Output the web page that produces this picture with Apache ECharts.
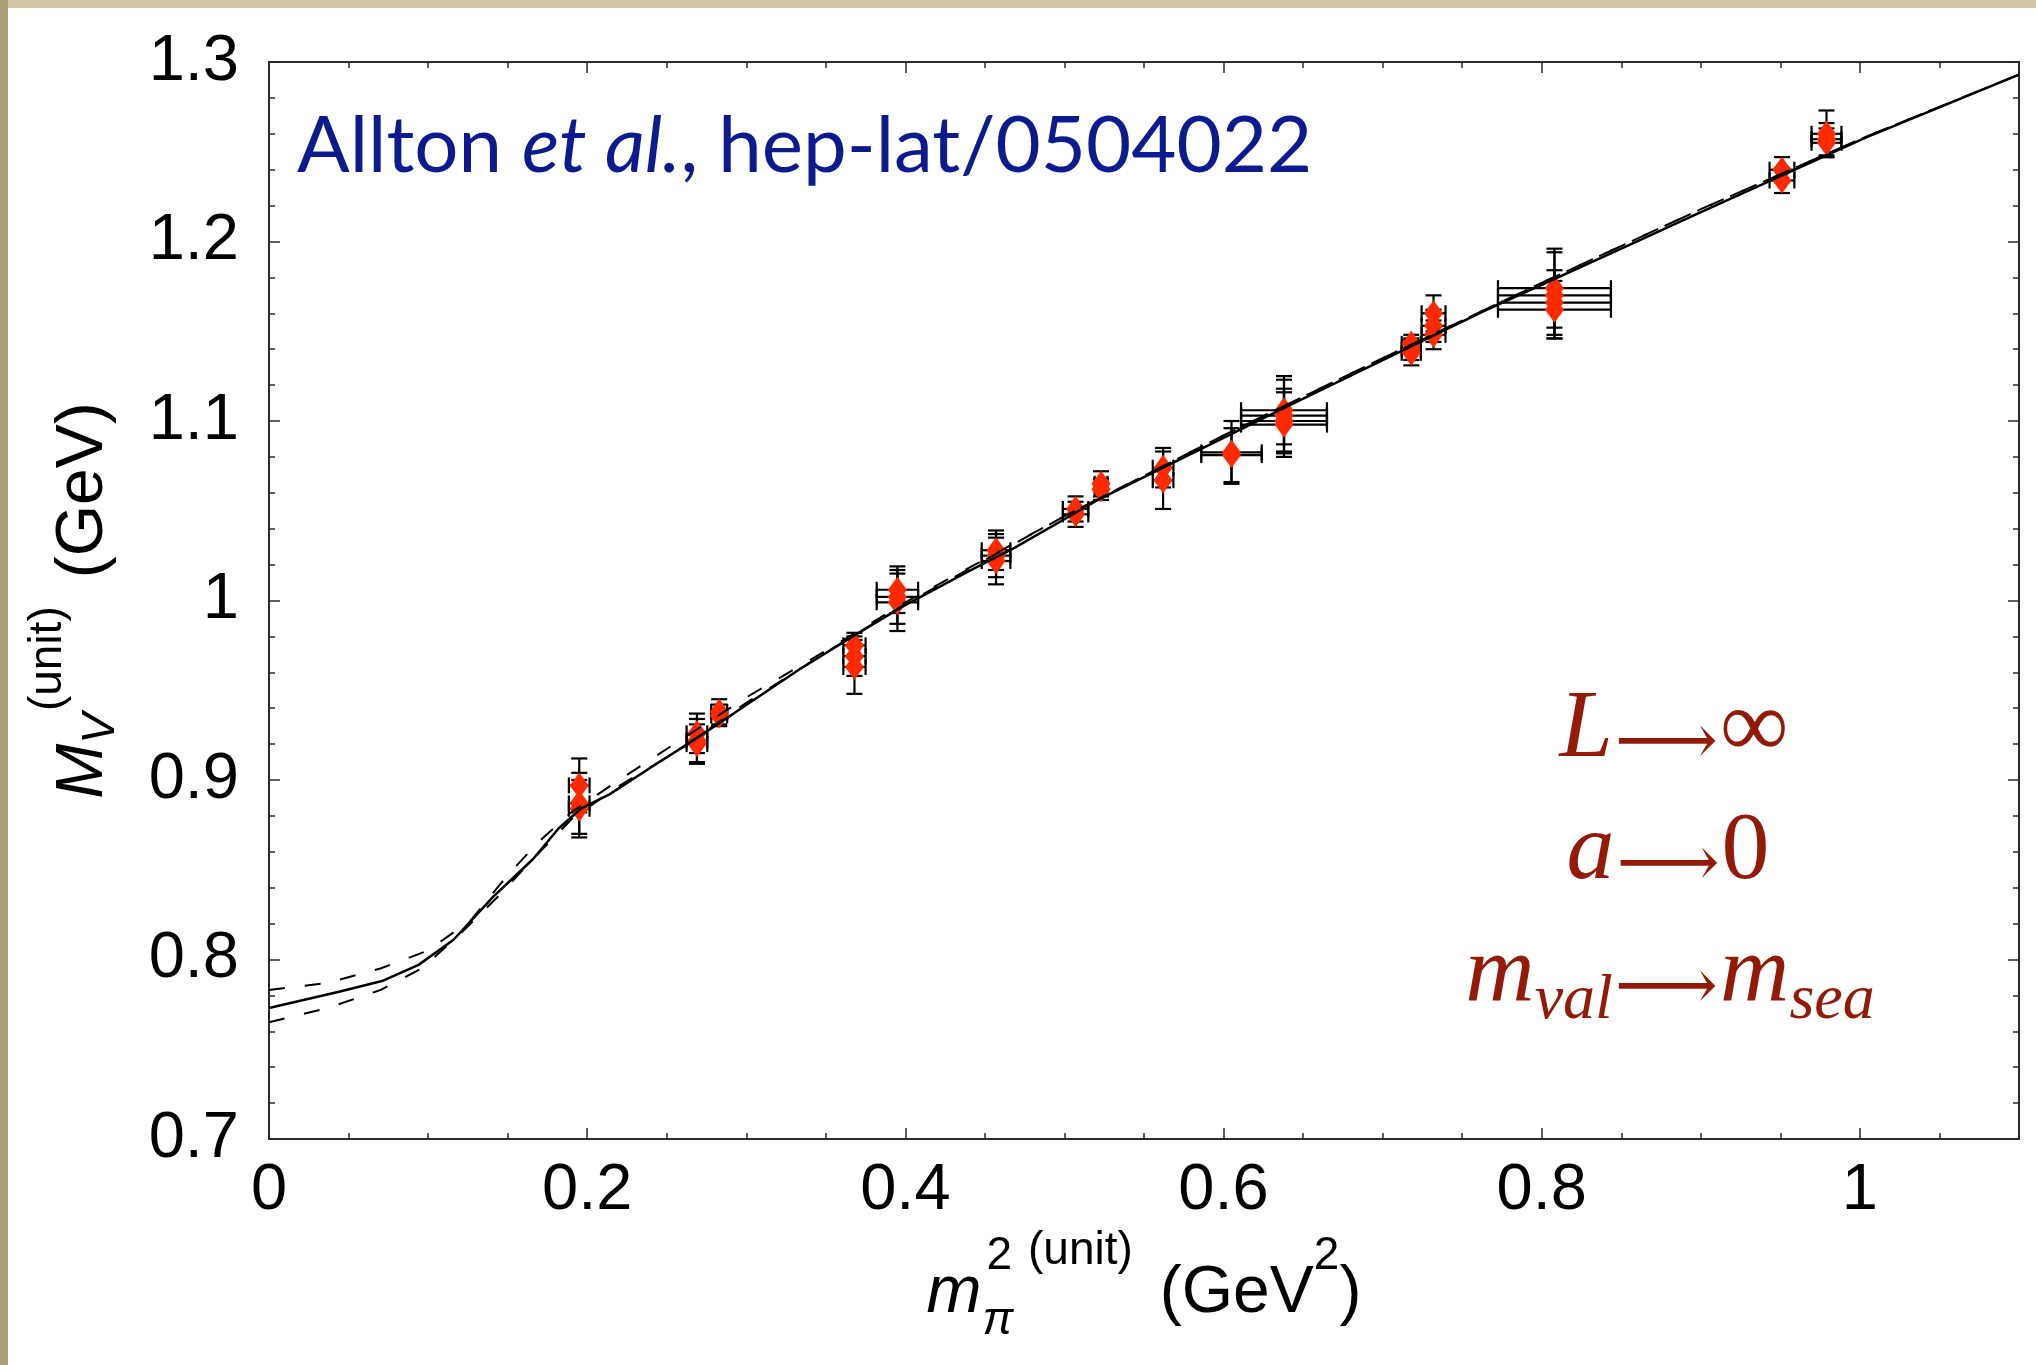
<!DOCTYPE html>
<html>
<head>
<meta charset="utf-8">
<script src="https://cdn.jsdelivr.net/npm/echarts@6/dist/echarts.min.js"></script>
<style>
html,body{margin:0;padding:0;background:#fff;}
#c{width:2036px;height:1365px;}
</style>
</head>
<body>
<div id="c"></div>
<script>
// ---- data ----
const xTickValues = [0, 0.2, 0.4, 0.6, 0.8, 1];
const yTickValues = [0.7, 0.8, 0.9, 1, 1.1, 1.2, 1.3];

const pointX = [0.195,0.195,0.195, 0.269,0.269,0.269, 0.283,0.283, 0.368,0.368,0.368,
  0.395,0.395,0.395, 0.457,0.457,0.457, 0.507,0.507, 0.523,0.523, 0.562,0.562,
  0.605,0.605, 0.638,0.638,0.638,0.638, 0.718,0.718,0.718, 0.732,0.732,0.732,
  0.808,0.808,0.808,0.808, 0.951,0.951, 0.979,0.979,0.979];
const pointY = [0.897,0.887,0.884, 0.926,0.922,0.920, 0.938,0.936, 0.975,0.969,0.963,
  1.006,1.002,0.999, 1.028,1.025,1.022, 1.051,1.048, 1.065,1.062, 1.074,1.067,
  1.0825,1.081, 1.106,1.103,1.100,1.098, 1.143,1.140,1.138, 1.160,1.153,1.148,
  1.174,1.170,1.166,1.162, 1.240,1.234, 1.260,1.257,1.255];
const pointXErr = [0.0065,0.0065,0.0065, 0.0065,0.0065,0.0065, 0.005,0.005, 0.007,0.007,0.007,
  0.013,0.013,0.013, 0.009,0.009,0.009, 0.008,0.008, 0.004,0.004, 0.0065,0.0065,
  0.019,0.019, 0.027,0.027,0.027,0.027, 0.006,0.006,0.006, 0.0075,0.0075,0.0075,
  0.0355,0.0355,0.0355,0.0355, 0.0078,0.0078, 0.0094,0.0094,0.0094];
const pointYErr = [0.015,0.017,0.016, 0.011,0.012,0.011, 0.007,0.006, 0.007,0.011,0.015,
  0.013,0.015,0.016, 0.011,0.012,0.013, 0.007,0.007, 0.007,0.006, 0.011,0.016,
  0.0175,0.015, 0.019,0.020,0.018,0.018, 0.005,0.006,0.007, 0.010,0.009,0.008,
  0.022,0.024,0.018,0.016, 0.007,0.007, 0.013,0.009,0.008];

const solidX = [0, 0.044, 0.071, 0.094, 0.116, 0.141, 0.166, 0.182, 0.196, 0.214, 0.24, 0.263,
  0.292, 0.334, 0.367, 0.397, 0.439, 0.468, 0.521, 0.642, 0.763, 0.85, 0.899, 1.004, 1.1];
const solidY = [0.773, 0.782, 0.788, 0.797, 0.811, 0.835, 0.856, 0.873, 0.884, 0.892, 0.907, 0.920,
  0.937, 0.962, 0.980, 0.996, 1.016, 1.029, 1.056, 1.109, 1.161, 1.196, 1.216, 1.258, 1.293];
const upperX = [0, 0.037, 0.07, 0.1, 0.127, 0.15, 0.17, 0.19, 0.22, 0.26, 0.3, 0.35, 0.4, 0.5, 0.6, 0.7, 0.8, 0.9, 1.0, 1.1];
const upperY = [0.783, 0.787, 0.795, 0.805, 0.822, 0.847, 0.866, 0.882, 0.900, 0.923, 0.946, 0.972, 0.999, 1.047, 1.092, 1.135, 1.177, 1.218, 1.257, 1.293];
const lowerX = [0, 0.037, 0.07, 0.096, 0.121, 0.145, 0.167, 0.19, 0.217, 0.26, 0.3, 0.35, 0.4, 0.5, 0.6, 0.7, 0.8, 0.9, 1.0, 1.1];
const lowerY = [0.765, 0.773, 0.783, 0.795, 0.815, 0.836, 0.857, 0.878, 0.895, 0.918, 0.943, 0.971, 0.998, 1.047, 1.092, 1.135, 1.177, 1.218, 1.257, 1.293];

// ---- styles ----
const AXC = '#2a2a2a';
const SANS = '"Liberation Sans", Arial, Helvetica, sans-serif';
const SERIF = '"Liberation Serif", "Times New Roman", serif';
const ARROWF = '"DejaVu Serif", "DejaVu Sans", "Liberation Serif", serif';
const RED = '#921a06';

function fmtTick(list) {
  return function (v) {
    for (const t of list) if (Math.abs(v - t) < 1e-6) return String(t);
    return '';
  };
}

function baseAxis(extra) {
  return Object.assign({
    type: 'value',
    axisLine: { show: true, onZero: false, lineStyle: { color: AXC, width: 2 } },
    axisTick: { show: true, inside: true, length: 11, lineStyle: { color: AXC, width: 1.5 } },
    splitLine: { show: false },
    minorSplitLine: { show: false }
  }, extra);
}

const LH = 140;
const xNameRich = {
  m: { fontFamily: SANS, fontSize: 66, fontStyle: 'italic', color: '#000', lineHeight: LH, verticalAlign: 'middle' },
  pi: { fontFamily: SANS, fontSize: 46, fontStyle: 'italic', color: '#000', lineHeight: LH, verticalAlign: 'middle', padding: [54, 0, 0, 1] },
  s2: { fontFamily: SANS, fontSize: 46, color: '#000', lineHeight: LH, verticalAlign: 'middle', padding: [0, 0, 76, -27] },
  unit: { fontFamily: SANS, fontSize: 46, color: '#000', lineHeight: LH, verticalAlign: 'middle', padding: [0, 0, 86, 16] },
  g1: { fontFamily: SANS, fontSize: 66, color: '#000', lineHeight: LH, verticalAlign: 'middle', padding: [0, 0, 0, 27] },
  g: { fontFamily: SANS, fontSize: 66, color: '#000', lineHeight: LH, verticalAlign: 'middle' },
  sup: { fontFamily: SANS, fontSize: 46, color: '#000', lineHeight: LH, verticalAlign: 'middle', padding: [0, 0, 76, 0] }
};
const yNameRich = {
  M: { fontFamily: SANS, fontSize: 66, fontStyle: 'italic', color: '#000', lineHeight: LH, verticalAlign: 'middle' },
  V: { fontFamily: SANS, fontSize: 46, fontStyle: 'italic', color: '#000', lineHeight: LH, verticalAlign: 'middle', padding: [34, 0, 0, 0] },
  unit: { fontFamily: SANS, fontSize: 46, color: '#000', lineHeight: LH, verticalAlign: 'middle', padding: [0, 0, 72, 2] },
  g: { fontFamily: SANS, fontSize: 66, color: '#000', lineHeight: LH, verticalAlign: 'middle', padding: [0, 0, 0, 28] }
};

const errData = pointX.map((x, i) => [x, pointY[i], pointXErr[i], pointYErr[i]]);
const ptData = pointX.map((x, i) => [x, pointY[i]]);

const annoRich = {
  i: { fontFamily: SERIF, fontSize: 96, fontStyle: 'italic', fill: RED, lineHeight: 120 },
  r: { fontFamily: SERIF, fontSize: 96, fill: RED, lineHeight: 120 },
  ar: { fontFamily: ARROWF, fontSize: 72, fill: RED, lineHeight: 120, padding: [28, 2, 0, 2] },
  s: { fontFamily: SERIF, fontSize: 64, fontStyle: 'italic', fill: RED, lineHeight: 120, padding: [50, 0, 0, 0] }
};

const option = {
  animation: false,
  backgroundColor: '#ffffff',
  grid: { left: 269, top: 62, width: 1750, height: 1082, containLabel: false },
  xAxis: [
    baseAxis({
      position: 'bottom', min: 0, max: 1.1, interval: 0.2,
      minorTick: { show: true, splitNumber: 4, length: 6, lineStyle: { color: AXC, width: 1.5 } },
      axisLabel: { show: true, color: '#000', fontFamily: SANS, fontSize: 65, margin: 20, formatter: fmtTick(xTickValues) },
      name: '{m|m}{pi|π}{s2|2}{unit|(unit)}{g1|(GeV}{sup|2}{g|)}',
      nameLocation: 'middle', nameGap: 85, nameMoveOverlap: false,
      nameTextStyle: { rich: xNameRich }
    }),
    baseAxis({
      position: 'top', min: 0, max: 1.1, interval: 0.2,
      minorTick: { show: true, splitNumber: 4, length: 6, lineStyle: { color: AXC, width: 1.5 } },
      axisLabel: { show: false }
    })
  ],
  yAxis: [
    baseAxis({
      position: 'left', min: 0.7, max: 1.3, interval: 0.1,
      minorTick: { show: true, splitNumber: 5, length: 6, lineStyle: { color: AXC, width: 1.5 } },
      axisLabel: { show: true, color: '#000', fontFamily: SANS, fontSize: 65, margin: 30, formatter: fmtTick(yTickValues) },
      name: '{M|M}{V|V}{unit|(unit)}{g|(GeV)}',
      nameLocation: 'middle', nameRotate: 90, nameGap: 115, nameMoveOverlap: false,
      nameTextStyle: { rich: yNameRich }
    }),
    baseAxis({
      position: 'right', min: 0.7, max: 1.3, interval: 0.1,
      minorTick: { show: true, splitNumber: 5, length: 6, lineStyle: { color: AXC, width: 1.5 } },
      axisLabel: { show: false }
    })
  ],
  series: [
    {
      type: 'custom', name: 'errors', z: 2,
      xAxisIndex: 0, yAxisIndex: 0,
      encode: { x: 0, y: 1 },
      data: errData,
      renderItem: function (params, api) {
        const x = api.value(0), y = api.value(1), xe = api.value(2), ye = api.value(3);
        const t = api.coord([x, y + ye]);
        const b = api.coord([x, y - ye]);
        const l = api.coord([x - xe, y]);
        const r = api.coord([x + xe, y]);
        const cap = 8;
        const st = { stroke: '#000', lineWidth: 2.2, fill: null };
        const ln = (x1, y1, x2, y2) => ({ type: 'line', shape: { x1, y1, x2, y2 }, style: st });
        return {
          type: 'group',
          children: [
            ln(t[0], t[1], b[0], b[1]),
            ln(t[0] - cap, t[1], t[0] + cap, t[1]),
            ln(b[0] - cap, b[1], b[0] + cap, b[1]),
            ln(l[0], l[1], r[0], r[1]),
            ln(l[0], l[1] - cap, l[0], l[1] + cap),
            ln(r[0], r[1] - cap, r[0], r[1] + cap)
          ]
        };
      }
    },
    {
      type: 'scatter', name: 'data', z: 3,
      xAxisIndex: 0, yAxisIndex: 0,
      symbol: 'diamond', symbolSize: [19, 26],
      itemStyle: { color: '#ff2a00', opacity: 1 },
      data: ptData
    },
    {
      type: 'line', name: 'upper', z: 4, xAxisIndex: 0, yAxisIndex: 0,
      showSymbol: false, smooth: false,
      lineStyle: { color: '#000', width: 2, type: [16, 20] },
      data: upperX.map((x, i) => [x, upperY[i]])
    },
    {
      type: 'line', name: 'lower', z: 4, xAxisIndex: 0, yAxisIndex: 0,
      showSymbol: false, smooth: false,
      lineStyle: { color: '#000', width: 2, type: [16, 20] },
      data: lowerX.map((x, i) => [x, lowerY[i]])
    },
    {
      type: 'line', name: 'fit', z: 5, xAxisIndex: 0, yAxisIndex: 0,
      showSymbol: false, smooth: false,
      lineStyle: { color: '#000', width: 2.5 },
      data: solidX.map((x, i) => [x, solidY[i]])
    }
  ],
  graphic: [
    { type: 'rect', z: 100, shape: { x: 0, y: 0, width: 2036, height: 8 }, style: { fill: '#d2c7a6' } },
    { type: 'rect', z: 100, shape: { x: 0, y: 0, width: 8, height: 1365 }, style: { fill: '#ab9e75' } },
    {
      type: 'text', z: 50, x: 297, y: 147,
      style: {
        text: '{a|Allton }{b|et al.}{a|, hep-lat/0504022}',
        align: 'left', verticalAlign: 'middle',
        rich: {
          a: { fontFamily: 'Lato, "Open Sans", sans-serif', fontSize: 78, fill: '#0b1b8f', lineHeight: 100 },
          b: { fontFamily: 'Lato, "Open Sans", sans-serif', fontSize: 78, fontStyle: 'italic', fill: '#0b1b8f', lineHeight: 100 }
        }
      }
    },
    {
      type: 'text', z: 50, x: 1674, y: 731,
      style: { text: '{i|L}{ar|⟶}{r|∞}', align: 'center', verticalAlign: 'middle', rich: annoRich }
    },
    {
      type: 'text', z: 50, x: 1668, y: 853,
      style: { text: '{i|a}{ar|⟶}{r|0}', align: 'center', verticalAlign: 'middle', rich: annoRich }
    },
    {
      type: 'text', z: 50, x: 1670, y: 976,
      style: { text: '{i|m}{s|val}{ar|⟶}{i|m}{s|sea}', align: 'center', verticalAlign: 'middle', rich: annoRich }
    }
  ]
};

const chart = echarts.init(document.getElementById('c'), null, { renderer: 'canvas' });
chart.setOption(option);
</script>
</body>
</html>
